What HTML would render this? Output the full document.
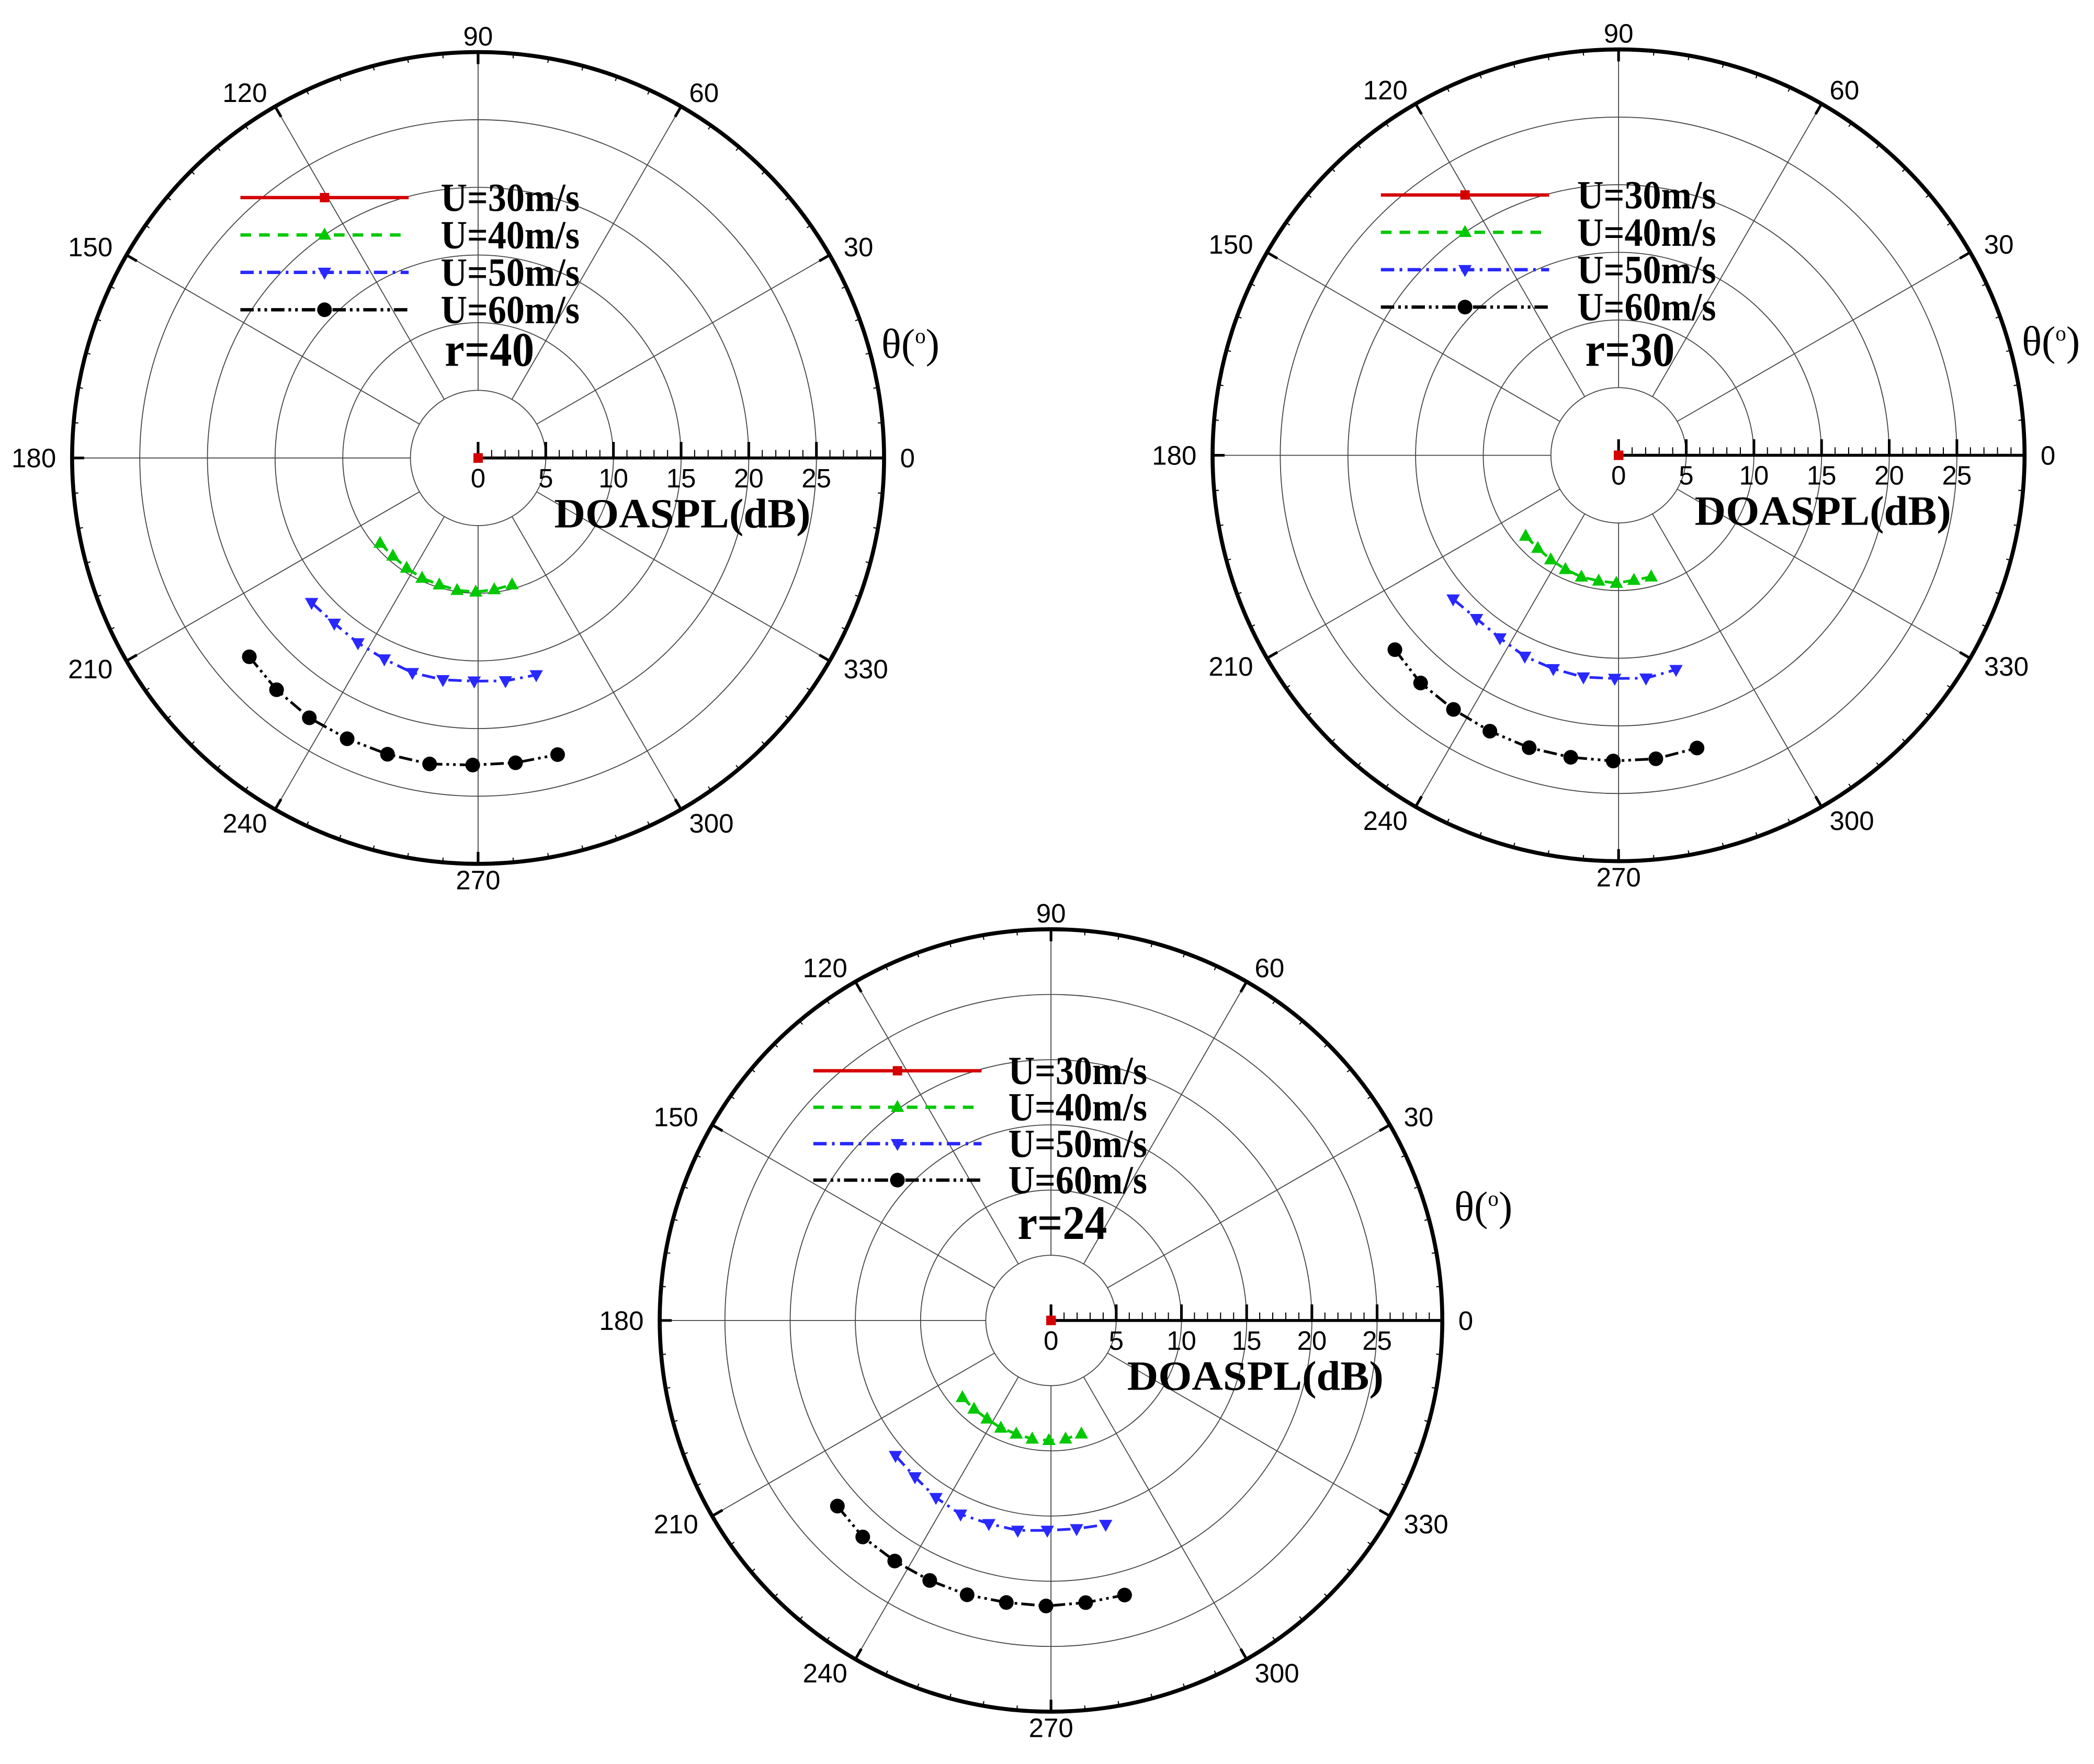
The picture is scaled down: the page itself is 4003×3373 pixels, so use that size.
<!DOCTYPE html>
<html><head><meta charset="utf-8"><style>
html,body{margin:0;padding:0;background:#fff;}
svg{display:block;}
</style></head><body>
<svg id="root" xmlns="http://www.w3.org/2000/svg" width="4003" height="3373" viewBox="0 0 1568 1321.2">
<rect width="1568" height="1321.2" fill="#fff"/>
</svg>
<script>
// Shared angles (degrees) of measured points
const angles = [221, 229, 237, 245, 253, 261, 269, 277, 285];
// Series values (DOASPL, dB) per chart
const r40_u30 = [0, 0, 0, 0, 0, 0, 0, 0, 0];
const r40_u40 = [9.6, 9.6, 9.7, 9.8, 9.8, 9.9, 9.9, 9.8, 9.7];
const r40_u50 = [16.3, 16.2, 16.3, 16.4, 16.6, 16.6, 16.5, 16.6, 16.6];
const r40_u60 = [22.4, 22.7, 22.9, 22.9, 22.9, 22.9, 22.7, 22.7, 22.7];
const r30_u30 = [0, 0, 0, 0, 0, 0, 0, 0, 0];
const r30_u40 = [9.1, 9.1, 9.2, 9.3, 9.4, 9.4, 9.45, 9.3, 9.3];
const r30_u50 = [16.2, 16.0, 16.1, 16.4, 16.5, 16.6, 16.5, 16.6, 16.4];
const r30_u60 = [21.9, 22.3, 22.4, 22.5, 22.6, 22.6, 22.6, 22.6, 22.4];
const r24_u30 = [0, 0, 0, 0, 0, 0, 0, 0, 0];
const r24_u40 = [9.0, 9.0, 9.0, 9.1, 9.1, 9.2, 9.2, 9.15, 9.0];
const r24_u50 = [15.8, 15.9, 16.2, 16.4, 16.3, 16.3, 16.1, 16.1, 16.2];
const r24_u60 = [21.7, 22.0, 22.0, 22.0, 22.0, 21.9, 21.9, 21.8, 21.8];
const legendLabels = ["U=30m/s", "U=40m/s", "U=50m/s", "U=60m/s"];
const radialTicks = [0, 5, 10, 15, 20, 25];
const angleTicks = [0, 30, 60, 90, 120, 150, 180, 210, 240, 270, 300, 330];
const chartTitles = ["r=40", "r=30", "r=24"];
const rMax = 30;

const NS = "http://www.w3.org/2000/svg";
const root = document.getElementById("root");
function mk(tag, attrs, parent) {
  const e = document.createElementNS(NS, tag);
  for (const k in attrs) e.setAttribute(k, attrs[k]);
  (parent || root).appendChild(e);
  return e;
}
const styles = [
  {color: "#d40000", dash: "", marker: "square"},
  {color: "#00c800", dash: "8,6", marker: "tri-up"},
  {color: "#2828ff", dash: "10,4,2,4", marker: "tri-down"},
  {color: "#000000", dash: "10,3,2,3,2,3", marker: "circle"}
];
function marker(g, type, x, y, color, name) {
  let e;
  if (type === "square") e = mk("rect", {x: x - 3.5, y: y - 3.5, width: 7, height: 7, fill: color}, g);
  else if (type === "tri-up") e = mk("polygon", {points: `${x},${y-5.5} ${x-5},${y+3.5} ${x+5},${y+3.5}`, fill: color}, g);
  else if (type === "tri-down") e = mk("polygon", {points: `${x},${y+5.5} ${x-5},${y-3.5} ${x+5},${y-3.5}`, fill: color}, g);
  else e = mk("circle", {cx: x, cy: y, r: 5.5, fill: color}, g);
  
  
}

function drawChart(cfg) {
  const {cx, cy, R, title, series, id, legDy, legX, legY, titleY} = cfg;
  const g = mk("g", {});
  
  
  const rs = v => v / rMax * R;
  const px = (a, v) => cx + rs(v) * Math.cos(a * Math.PI / 180);
  const py = (a, v) => cy - rs(v) * Math.sin(a * Math.PI / 180);
  for (let v = 5; v <= 25; v += 5) {
    const c = mk("circle", {cx, cy, r: rs(v), fill: "none", stroke: "#444", "stroke-width": 0.7}, g);
    
    
  }
  for (const a of angleTicks) {
    if (a === 0) continue;
    const l = mk("line", {x1: px(a, 5), y1: py(a, 5), x2: px(a, rMax), y2: py(a, rMax), stroke: "#444", "stroke-width": 0.7}, g);
    
    
  }
  const oc = mk("circle", {cx, cy, r: R, fill: "none", stroke: "#000", "stroke-width": 3}, g);
  
  
  for (let a = 0; a < 360; a += 5) {
    const major = a % 30 === 0;
    const len = major ? 9 : 3.5;
    const t = mk("line", {x1: px(a, rMax), y1: py(a, rMax), x2: px(a, rMax * (R - len) / R), y2: py(a, rMax * (R - len) / R), stroke: "#000", "stroke-width": major ? 2 : 0.8}, g);
    
    
  }
  for (const a of angleTicks) {
    const cs = Math.cos(a * Math.PI / 180);
    const rr = rMax * (R + 12) / R;
    const anchor = cs > 0.3 ? "start" : (cs < -0.3 ? "end" : "middle");
    const t = mk("text", {x: px(a, rr), y: py(a, rr) + 7, "text-anchor": anchor, "font-family": "Liberation Sans, sans-serif", "font-size": 20}, g);
    t.textContent = a;
    
    
  }
  const ax = mk("line", {x1: cx, y1: cy, x2: cx + R, y2: cy, stroke: "#000", "stroke-width": 2.2}, g);
  
  
  for (let v = 0; v < rMax; v++) {
    const major = v % 5 === 0;
    const t = mk("line", {x1: cx + rs(v), y1: cy, x2: cx + rs(v), y2: cy - (major ? 12 : 6), stroke: "#000", "stroke-width": major ? 2 : 0.8}, g);
    
    
  }
  for (const v of radialTicks) {
    const t = mk("text", {x: cx + rs(v), y: cy + 22, "text-anchor": "middle", "font-family": "Liberation Sans, sans-serif", "font-size": 20}, g);
    t.textContent = v;
    
    
  }
  const at = mk("text", {x: cx + 57, y: cy + 52, "font-family": "Liberation Serif, serif", "font-weight": "bold", "font-size": 31, textLength: 192, lengthAdjust: "spacingAndGlyphs"}, g);
  at.textContent = "DOASPL(dB)";
  
  
  const th = mk("text", {x: cx + 302, y: cy - 75, "font-family": "Liberation Serif, serif", "font-size": 31}, g);
  th.textContent = "θ(";
  
  
  const ts = mk("tspan", {dy: -11, "font-size": 16}, th);
  ts.textContent = "o";
  const ts2 = mk("tspan", {dy: 11}, th);
  ts2.textContent = ")";
  series.forEach((vals, i) => {
    const st = styles[i];
    const sg = mk("g", {}, g);
    
    
    const pts = vals.map((v, k) => `${px(angles[k], v).toFixed(2)},${py(angles[k], v).toFixed(2)}`).join(" ");
    const pl = mk("polyline", {points: pts, fill: "none", stroke: st.color, "stroke-width": 2, "stroke-dasharray": st.dash}, sg);
    
    
    vals.forEach((v, k) => marker(sg, st.marker, px(angles[k], v), py(angles[k], v), st.color, 'data-point'));
  });
  const lg = mk("g", {}, g);
  
  
  legendLabels.forEach((lab, i) => {
    const y = cy + legY + i * legDy;
    const st = styles[i];
    const ln = mk("line", {x1: cx - 178, y1: y, x2: cx - 52, y2: y, stroke: st.color, "stroke-width": 2.5, "stroke-dasharray": st.dash}, lg);
    
    
    marker(lg, st.marker, cx - 115, y, st.color, 'legend-marker');
    const t = mk("text", {x: cx + legX, y: y + 10, "font-family": "Liberation Serif, serif", "font-weight": "bold", "font-size": 30, textLength: 104, lengthAdjust: "spacingAndGlyphs"}, lg);
    t.textContent = lab;
    
    
  });
  const tt = mk("text", {x: cx - 25, y: cy + titleY, "font-family": "Liberation Serif, serif", "font-weight": "bold", "font-size": 36, textLength: 67, lengthAdjust: "spacingAndGlyphs"}, g);
  tt.textContent = title;
  
  
  marker(g, "square", cx, cy, "#d40000", 'center-marker');
}

drawChart({id: "chart-r40", cx: 358, cy: 343, R: 304, title: chartTitles[0], legDy: 28, legX: -28, legY: -195, titleY: -69, series: [r40_u30, r40_u40, r40_u50, r40_u60]});
drawChart({id: "chart-r30", cx: 1212, cy: 341, R: 304, title: chartTitles[1], legDy: 28, legX: -31, legY: -195, titleY: -67, series: [r30_u30, r30_u40, r30_u50, r30_u60]});
drawChart({id: "chart-r24", cx: 787, cy: 989, R: 293, title: chartTitles[2], legDy: 27.3, legX: -32, legY: -187, titleY: -61, series: [r24_u30, r24_u40, r24_u50, r24_u60]});
</script>
</body></html>
